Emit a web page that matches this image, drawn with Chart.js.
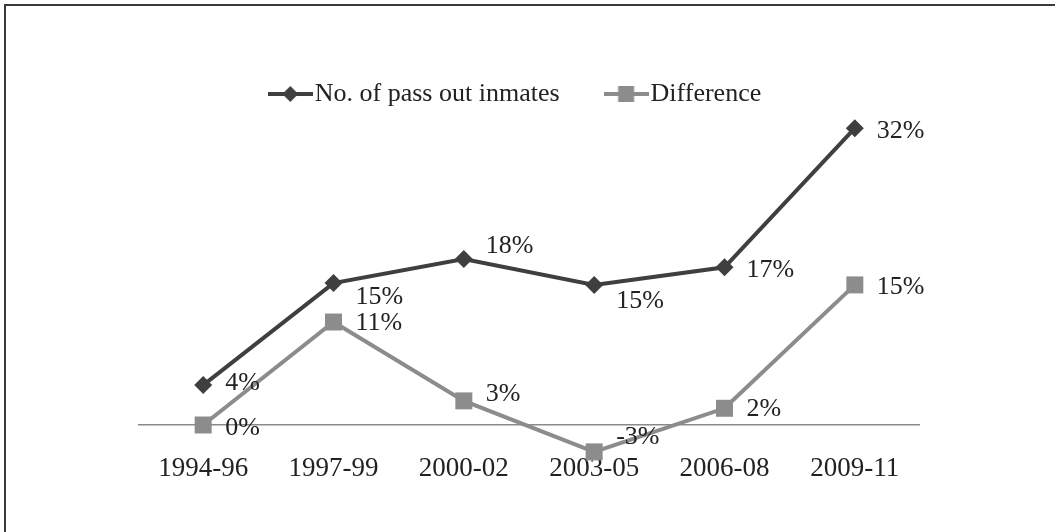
<!DOCTYPE html>
<html>
<head>
<meta charset="utf-8">
<script src="https://cdn.jsdelivr.net/npm/chart.js@4/dist/chart.umd.min.js"></script>
<style>
  body { margin: 0; background: #fff; }
  #wrap { position: absolute; left: 0; top: 0; width: 1055px; height: 532px; }
  #frame { position: absolute; left: 4px; top: 4px; width: 1060px; height: 540px;
           border-left: 2px solid #3a3a3a; border-top: 2px solid #3a3a3a; }
</style>
</head>
<body>
<div id="wrap">
  <div id="frame"></div>
  <canvas id="graph" width="1055" height="532"></canvas>
</div>
<script>
//------------ data ----------//
var periods = ["1994-96", "1997-99", "2000-02", "2003-05", "2006-08", "2009-11"];

var passOut = [4.3, 15.3, 17.9, 15.1, 17.0, 32.0];
var passOutLabels = ["4%", "15%", "18%", "15%", "17%", "32%"];

var difference = [0, 11.1, 2.6, -2.9, 1.8, 15.1];
var differenceLabels = ["0%", "11%", "3%", "-3%", "2%", "15%"];

//------------ styling ----------//
var darkCol = "#3f3f3f";
var greyCol = "#8c8c8c";
var serif = "'Liberation Serif', 'Times New Roman', serif";
var fontSize = 26;

// vertical nudge of each value label (like manual placement in the source)
var labelShiftY = [
  [-2, 14, -13, 16, 3, 3],
  [3, 1, -7, -15, 1, 2]
];

// small legend swatch: line with the marker in the middle
function legendSwatch (color, shape)
{
  var c = document.createElement("canvas");
  c.width = 45; c.height = 18;
  var g = c.getContext("2d");
  g.strokeStyle = color;
  g.lineWidth = 4;
  g.beginPath(); g.moveTo(0, 9); g.lineTo(45, 9); g.stroke();
  g.fillStyle = color;
  g.beginPath();
  if (shape == "diamond") {
    g.moveTo(22.5, 1); g.lineTo(30.5, 9); g.lineTo(22.5, 17); g.lineTo(14.5, 9);
  } else {
    g.rect(14.5, 1, 16, 16);
  }
  g.closePath(); g.fill();
  return c;
}

var swatches = [legendSwatch(darkCol, "diamond"), legendSwatch(greyCol, "square")];

//------------ value labels ----------//
var valueLabels = {
  id: "valueLabels",
  afterLayout: function (chart) {
    // the source legend sits a little left of the plot centre
    chart.legend.left -= 18;
  },
  afterDatasetsDraw: function (chart) {
    var ctx = chart.ctx;
    var texts = [passOutLabels, differenceLabels];
    ctx.save();
    ctx.font = fontSize + "px " + serif;
    ctx.fillStyle = "#222";
    ctx.textAlign = "left";
    ctx.textBaseline = "middle";
    chart.data.datasets.forEach(function (ds, d) {
      chart.getDatasetMeta(d).data.forEach(function (pt, i) {
        ctx.fillText(texts[d][i], pt.x + 22, pt.y + labelShiftY[d][i]);
      });
    });
    ctx.restore();
  }
};

//------------ chart ----------//
const ctx = document.getElementById("graph");
const myChart = new Chart(ctx, {
  type: "line",
  data: {
    labels: periods,
    datasets: [
      {
        label: "No. of pass out inmates",
        data: passOut,
        borderColor: darkCol,
        backgroundColor: darkCol,
        borderWidth: 4,
        pointStyle: "rectRot",
        pointRadius: 9,
        pointBorderWidth: 0,
        tension: 0,
        clip: false
      },
      {
        label: "Difference",
        data: difference,
        borderColor: greyCol,
        backgroundColor: greyCol,
        borderWidth: 4,
        pointStyle: "rect",
        pointRadius: 12,
        pointBorderWidth: 0,
        tension: 0,
        clip: false
      }
    ]
  },
  options: {
    responsive: false,
    animation: false,
    layout: { padding: { left: 138, right: 135, top: 26, bottom: 50 } },
    plugins: {
      tooltip: { enabled: false },
      legend: {
        position: "top",
        labels: {
          usePointStyle: true,
          pointStyleWidth: 23,
          padding: 55,
          color: "#222",
          font: { family: serif, size: fontSize },
          generateLabels: function (chart) {
            return chart.data.datasets.map(function (ds, i) {
              return {
                text: ds.label,
                pointStyle: swatches[i],
                fillStyle: ds.borderColor,
                strokeStyle: ds.borderColor,
                lineWidth: 0,
                fontColor: "#222",
                datasetIndex: i
              };
            });
          }
        }
      }
    },
    scales: {
      x: {
        offset: true,
        grid: { display: false, drawTicks: false },
        border: { display: false },
        ticks: { color: "#222", padding: -3, font: { family: serif, size: 27 } }
      },
      y: {
        min: -3.3,
        max: 33.2,
        border: { display: false },
        ticks: { display: false, stepSize: 1 },
        grid: {
          drawTicks: false,
          lineWidth: 1.5,
          color: function (c) { return c.tick && c.tick.value === 0 ? "#8a8a8a" : "rgba(0,0,0,0)"; }
        },
        afterFit: function (scale) { scale.width = 0; }
      }
    }
  },
  plugins: [valueLabels]
});
</script>
</body>
</html>
